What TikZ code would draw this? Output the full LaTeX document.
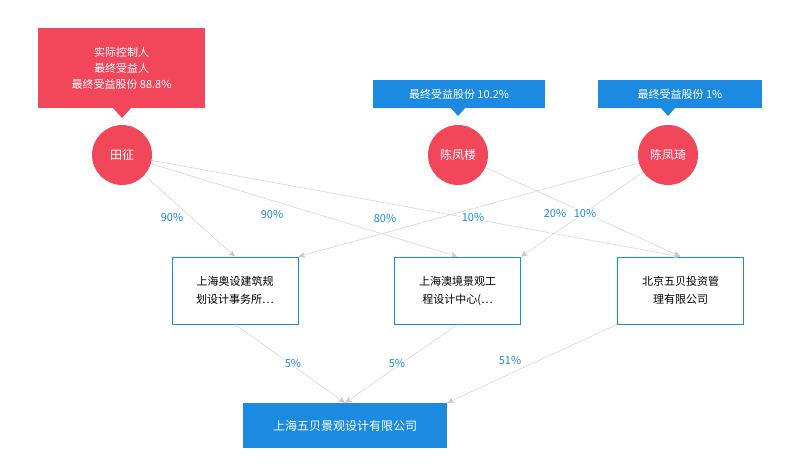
\documentclass[tikz,border=0pt]{standalone}
\usepackage{fontspec}
\setmainfont{Noto Sans CJK SC}
\usetikzlibrary{arrows.meta,positioning}
\definecolor{hred}{HTML}{F2475B}
\definecolor{hblue}{HTML}{1C8AE0}
\definecolor{hline}{HTML}{C8C8C8}
\tikzset{
    person/.style = {circle, fill=hred, text=white, minimum size=60, inner sep=0, font=\fontsize{12}{14}\selectfont},
    tagred/.style = {fill=hred, text=white, align=center, inner sep=0, font=\fontsize{11}{16}\selectfont},
    tagblue/.style = {fill=hblue, text=white, inner sep=0, font=\fontsize{11}{14}\selectfont},
    company/.style = {draw=hblue, thick, fill=white, align=center, minimum width=126, minimum height=67, inner sep=0, font=\fontsize{11}{18}\selectfont},
    target/.style = {fill=hblue, text=white, minimum width=204, minimum height=45, inner sep=0, font=\fontsize{12}{14}\selectfont},
    link/.style = {draw=hline, -{Stealth[length=7pt,width=6pt]}},
    pct/.style = {text=hblue, fill=white, inner sep=1pt, font=\fontsize{11}{13}\selectfont}
}
\begin{document}
\begin{tikzpicture}[x=1pt,y=-1pt]
                \useasboundingbox (0,0) rectangle (800,476);

                %% shareholders
                \node[person] (tz) at (122,155) {田征};
                \node[person] (cfl) at (458,155) {陈凤楼};
                \node[person] (cfq) at (668,155) {陈凤琦};

                \node[tagred, minimum width=167, minimum height=80] (tagtz) at (121.5,68) {实际控制人\\最终受益人\\最终受益股份 88.8\%};
                \fill[hred] (112,107) -- (122,118) -- (132,107) -- cycle;
                \node[tagblue, minimum width=172, minimum height=28] (tagcfl) at (459,94) {最终受益股份 10.2\%};
                \fill[hblue] (450,107) -- (458,116) -- (466,107) -- cycle;
                \node[tagblue, minimum width=164, minimum height=28] (tagcfq) at (680,94) {最终受益股份 1\%};
                \fill[hblue] (660,107) -- (668,116) -- (676,107) -- cycle;

                %% companies
                \node[company] (ao) at (235,290.5) {上海奥设建筑规\\划设计事务所…};
                \node[company] (aj) at (457.5,290.5) {上海澳境景观工\\程设计中心(…};
                \node[company] (wb) at (680.5,290.5) {北京五贝投资管\\理有限公司};
                \node[target] (main) at (345,425.5) {上海五贝景观设计有限公司};

                %% holdings
                \draw[link] (tz) -- (ao.north);
                \draw[link] (tz) -- (aj.north);
                \draw[link] (tz) -- (wb.north);
                \draw[link] (cfq) -- (ao.north east);
                \draw[link] (cfl) -- (wb.north);
                \draw[link] (cfq) -- (aj.north east);
                \draw[link] (ao.south) -- (main.north);
                \draw[link] (aj.south) -- (main.north);
                \draw[link] (wb.south west) -- (main.north east);

                \node[pct] at (172,217) {90\%};
                \node[pct] at (272,214) {90\%};
                \node[pct] at (385,218) {80\%};
                \node[pct] at (473,217) {10\%};
                \node[pct] at (555,213) {20\%};
                \node[pct] at (585,213) {10\%};
                \node[pct] at (293,363) {5\%};
                \node[pct] at (397,363) {5\%};
                \node[pct] at (510,360) {51\%};
            \end{tikzpicture}
\end{document}
